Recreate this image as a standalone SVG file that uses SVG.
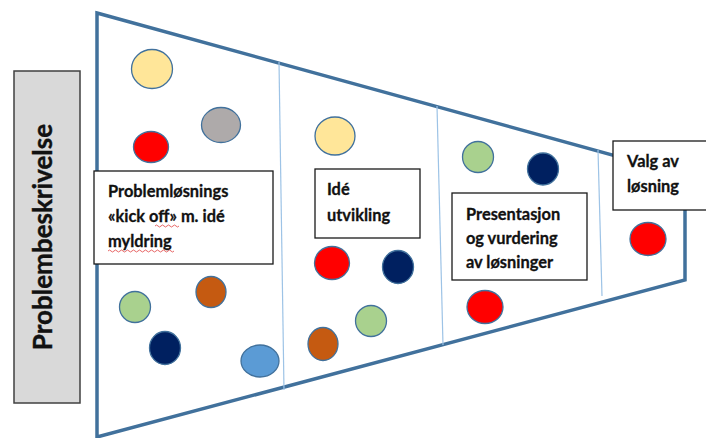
<svg xmlns="http://www.w3.org/2000/svg" width="706" height="438" viewBox="0 0 706 438">
<style>
.dot{stroke:#41719c;stroke-width:1.3}
.box{fill:#fff;stroke:#1a1a1a;stroke-width:1.3}
.t{font-family:Lato,"Open Sans","Liberation Sans",sans-serif;font-weight:bold;font-size:16.4px;fill:#111;stroke:#111;stroke-width:0.3}
.div{stroke:#9dc3e6;stroke-width:1.2;fill:none}
.sq{fill:none;stroke:#e04040;stroke-width:0.8}
</style>
<rect width="706" height="438" fill="#fff"/>
<g id="funnel">
<polygon points="97,13 685,175 685,280 97,437" fill="#fff" stroke="#41719c" stroke-width="3.5" stroke-linejoin="miter"/>
<line class="div" x1="279" y1="62" x2="284" y2="390"/>
<line class="div" x1="437" y1="106" x2="443" y2="345"/>
<line class="div" x1="598" y1="150" x2="602" y2="296"/>
</g>
<g id="problembeskrivelse">
<rect x="14" y="71" width="66" height="332" fill="#d9d9d9" stroke="#404040" stroke-width="1.5"/>
<text class="t" transform="translate(52,237) rotate(-90)" text-anchor="middle" style="font-size:26px;stroke-width:0.4">Problembeskrivelse</text>
</g>
<g id="dots">
<ellipse class="dot" cx="152" cy="69" rx="20.5" ry="19.5" fill="#ffe699"/>
<ellipse class="dot" cx="221" cy="125" rx="19.5" ry="17.5" fill="#aeaaaa"/>
<ellipse class="dot" cx="151" cy="147" rx="17.5" ry="15.5" fill="#ff0000"/>
<ellipse class="dot" cx="135" cy="307" rx="15.5" ry="15.5" fill="#a9d18e"/>
<ellipse class="dot" cx="211" cy="292" rx="15" ry="15.5" fill="#c55a11"/>
<ellipse class="dot" cx="165" cy="348" rx="15.5" ry="16.5" fill="#002060"/>
<ellipse class="dot" cx="260" cy="361" rx="19" ry="16" fill="#5b9bd5"/>
<ellipse class="dot" cx="335" cy="136" rx="20" ry="19" fill="#ffe699"/>
<ellipse class="dot" cx="332" cy="263" rx="17.5" ry="16.5" fill="#ff0000"/>
<ellipse class="dot" cx="398" cy="267" rx="15.5" ry="16.5" fill="#002060"/>
<ellipse class="dot" cx="371" cy="321" rx="15.5" ry="15.5" fill="#a9d18e"/>
<ellipse class="dot" cx="323" cy="344" rx="15" ry="16.5" fill="#c55a11"/>
<ellipse class="dot" cx="478" cy="157" rx="15.5" ry="15.5" fill="#a9d18e"/>
<ellipse class="dot" cx="543" cy="169" rx="15.5" ry="16" fill="#002060"/>
<ellipse class="dot" cx="648" cy="239" rx="18" ry="16.5" fill="#ff0000"/>
<ellipse class="dot" cx="485" cy="307" rx="18" ry="16.5" fill="#ff0000"/>
</g>
<g id="box1">
<rect class="box" x="94" y="171" width="179" height="93"/>
<text class="t" x="108" y="197">Problemløsnings</text>
<text class="t" x="108" y="222">«kick off» m. idé</text>
<text class="t" x="108" y="247">myldring</text>
<path class="sq" d="M155,226 q1.5,-2 3,0 t3,0 t3,0 t3,0 t3,0 t3,0 t3,0 t3,0"/>
<path class="sq" d="M108,251 q1.5,-2 3,0 t3,0 t3,0 t3,0 t3,0 t3,0 t3,0 t3,0 t3,0 t3,0 t3,0 t3,0 t3,0 t3,0 t3,0 t3,0 t3,0 t3,0 t3,0 t3,0 t3,0 t3,0"/>
</g>
<g id="box2">
<rect class="box" x="315" y="169" width="105" height="69"/>
<text class="t" x="327" y="195">Idé</text>
<text class="t" x="327" y="221">utvikling</text>
</g>
<g id="box3">
<rect class="box" x="452" y="193" width="135" height="87"/>
<text class="t" x="466" y="220">Presentasjon</text>
<text class="t" x="466" y="244">og vurdering</text>
<text class="t" x="466" y="268">av løsninger</text>
</g>
<g id="box4">
<rect class="box" x="613" y="141" width="95" height="69"/>
<text class="t" x="627" y="167">Valg av</text>
<text class="t" x="627" y="192">løsning</text>
</g>
</svg>
